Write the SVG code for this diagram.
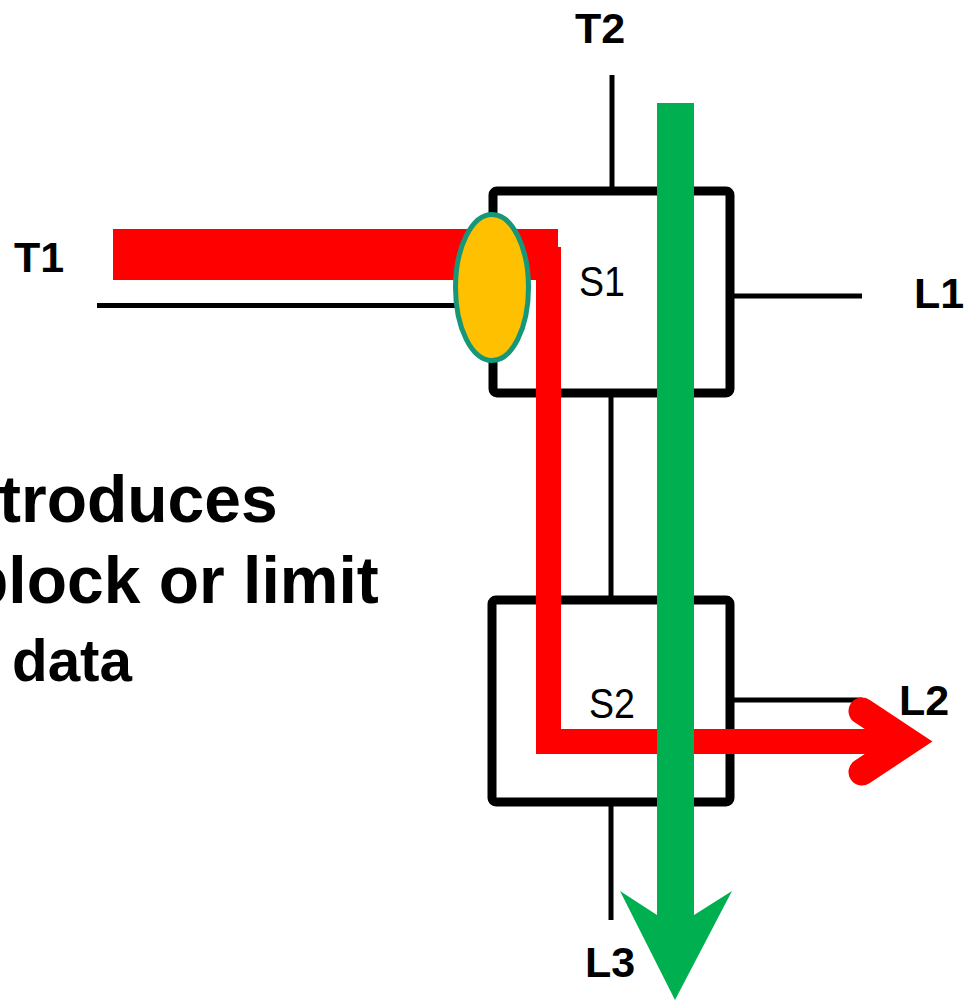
<svg xmlns="http://www.w3.org/2000/svg" width="964" height="1001" viewBox="0 0 964 1001">
<style>
.wire{stroke:#000;stroke-width:5;fill:none}
.box{fill:#fff;stroke:#000;stroke-width:9}
.lbl{font-family:"Liberation Sans",Arial,sans-serif;font-weight:bold;font-size:43px;fill:#000;text-anchor:middle}
.sw{font-family:"Liberation Sans",Arial,sans-serif;font-size:43px;fill:#000;text-anchor:middle}
.big{font-family:"Liberation Sans",Arial,sans-serif;font-weight:bold;font-size:66px;fill:#000}
</style>
<rect width="964" height="1001" fill="#fff"/>
<g id="text-block">
<text class="big" x="-1" y="522">troduces</text>
<text class="big" x="-32" y="603">block or limit</text>
<text class="big" x="12" y="681" style="font-size:60px" textLength="120" lengthAdjust="spacingAndGlyphs">data</text>
</g>
<g id="connectors">
<line class="wire" x1="612" y1="75" x2="612" y2="190"/>
<line class="wire" x1="97" y1="305.5" x2="470" y2="305.5"/>
<line class="wire" x1="730" y1="296" x2="862" y2="296"/>
<line class="wire" x1="611" y1="393" x2="611" y2="600"/>
<line class="wire" x1="730" y1="700" x2="862" y2="700"/>
<line class="wire" x1="611" y1="802" x2="611" y2="920"/>
</g>
<g id="S1">
<rect class="box" x="493" y="191" width="237" height="202" rx="4"/>
<text class="sw" x="602" y="296" textLength="46" lengthAdjust="spacingAndGlyphs">S1</text>
</g>
<g id="S2">
<rect class="box" x="492" y="600" width="238" height="202" rx="4"/>
<text class="sw" x="612" y="718" textLength="46" lengthAdjust="spacingAndGlyphs">S2</text>
</g>
<g id="labels">
<text class="lbl" x="39" y="272">T1</text>
<text class="lbl" x="600" y="43">T2</text>
<text class="lbl" x="939" y="308">L1</text>
<text class="lbl" x="924" y="715">L2</text>
<text class="lbl" x="610" y="977">L3</text>
</g>
<g id="red-path">
<rect x="113" y="229" width="445" height="51" fill="#ff0000"/>
<rect x="536" y="247" width="25" height="507" fill="#ff0000"/>
<rect x="541" y="729" width="370" height="25" fill="#ff0000"/>
<polyline points="862,711 908,741.5 862,772" fill="none" stroke="#ff0000" stroke-width="27" stroke-linecap="round" stroke-linejoin="miter"/>
</g>
<g id="filter-node">
<ellipse cx="492" cy="287.5" rx="36.5" ry="73" fill="#ffc000" stroke="#17977a" stroke-width="5"/>
</g>
<g id="green-path">
<polygon points="657,103 694,103 694,915 732,891 675,1000 620,891 657,915" fill="#00b050"/>
</g>
</svg>
